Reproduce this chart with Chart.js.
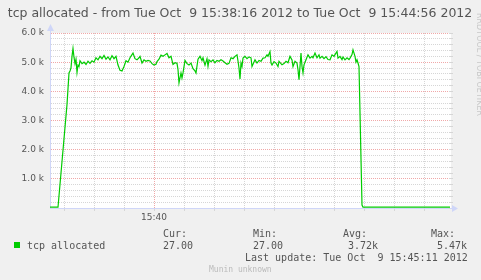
<!DOCTYPE html>
<html>
<head>
<meta charset="utf-8">
<script src="https://cdn.jsdelivr.net/npm/chart.js@4.4.0/dist/chart.umd.min.js"></script>
<style>
  html, body { margin: 0; padding: 0; background: #f0f0f0; }
  canvas { display: block; }
</style>
</head>
<body>
<canvas id="tcpChart" width="481" height="280"></canvas>
<script>
// seconds after 15:38:16
const seconds = [
    0, 8, 17, 19, 20, 21, 22, 23, 24, 25,
    26, 27, 28, 29, 30, 32, 34, 36, 38, 40,
    42, 44, 46, 48, 50, 52, 54, 56, 58, 60,
    62, 64, 66, 68, 70, 72, 74, 76, 78, 80,
    82, 83, 85, 87, 89, 90, 92, 94, 96, 98,
    100, 102, 104, 106, 107, 109, 111, 113, 115, 117,
    119, 121, 123, 125, 127, 128, 129, 131, 132, 133,
    135, 137, 139, 141, 143, 145, 146, 148, 150, 152,
    153, 155, 157, 158, 159, 161, 163, 165, 167, 169,
    171, 173, 175, 177, 179, 181, 183, 185, 187, 188,
    189, 190, 191, 192, 193, 195, 197, 199, 201, 202,
    205, 207, 209, 211, 213, 215, 217, 218, 220, 221,
    222, 224, 226, 228, 229, 232, 234, 236, 238, 240,
    242, 243, 245, 247, 248, 249, 250, 251, 252, 253,
    254, 256, 258, 260, 262, 263, 265, 267, 269, 270,
    272, 274, 276, 278, 280, 282, 284, 285, 287, 288,
    290, 292, 293, 295, 297, 299, 300, 302, 303, 305,
    306, 307, 308, 309, 312, 313, 400
];
const allocated = [
    27, 27, 3550, 4630, 4700, 4800, 5200, 5470, 5170, 4950,
    5100, 4650, 4900, 4850, 5050, 4950, 5000, 4920, 5030, 4960,
    5050, 5000, 5150, 5080, 5200, 5120, 5230, 5100, 5180, 5080,
    5220, 5120, 5200, 4900, 4720, 4700, 4850, 5050, 5000, 5150,
    5260, 5310, 5120, 5080, 5150, 5200, 4970, 5080, 5030, 5060,
    5040, 4950, 4900, 4930, 5020, 5100, 5240, 5200, 5250, 5300,
    5150, 5200, 4920, 4980, 4960, 4750, 4290, 4630, 4460, 4630,
    5060, 4950, 4900, 4970, 4780, 4700, 4630, 5100, 5200, 5050,
    5150, 4900, 5120, 4860, 5080, 5020, 5080, 4980, 5060, 5030,
    5080, 5040, 4980, 4930, 4960, 5150, 5120, 5200, 5250, 5040,
    4800, 4420, 4970, 4850, 5140, 5200, 5120, 5180, 5150, 4850,
    5080, 4970, 5060, 5030, 5140, 5150, 5250, 5200, 5360, 4970,
    4900, 5020, 4970, 4850, 5030, 4910, 4950, 5030, 4980, 5200,
    5080, 4850, 5030, 4970, 4740, 4400, 4850, 5310, 4850, 4630,
    4910, 5080, 5250, 5140, 5200, 5150, 5310, 5150, 5250, 5140,
    5200, 5120, 5190, 5090, 5080, 5250, 5200, 5260, 5370, 5140,
    5200, 5090, 5180, 5080, 5150, 5090, 5140, 5260, 5420, 5200,
    5000, 5080, 4970, 4850, 100, 27, 27
];

// x grid every 30 s, labelled only on the 5 minute mark
const xGridTicks = [14, 44, 74, 104, 134, 164, 194, 224, 254, 284, 314, 344, 374];
const xLabels = { 104: '15:40' };

const title = 'tcp allocated - from Tue Oct  9 15:38:16 2012 to Tue Oct  9 15:44:56 2012';
const legendName = 'tcp allocated';
const statHeads = ['Cur:', 'Min:', 'Avg:', 'Max:'];
const statValues = ['27.00', '27.00', '3.72k', '5.47k'];
const lastUpdate = 'Last update: Tue Oct  9 15:45:11 2012';

const green = '#00cc00';
const axisColor = '#cfd6f8';
const minorGrid = '#d6d6d6';
const majorGrid = '#f0a8a8';
const fontColor = '#555555';

const points = seconds.map((s, i) => ({ x: s, y: allocated[i] }));

const decor = {
    id: 'decor',
    beforeDraw(chart) {
        const { ctx, chartArea: a } = chart;
        ctx.save();
        ctx.fillStyle = '#f0f0f0';
        ctx.fillRect(0, 0, chart.width, chart.height);
        ctx.fillStyle = '#ffffff';
        ctx.fillRect(a.left, a.top, a.right - a.left + 1, a.bottom - a.top);
        ctx.restore();
    },
    afterDraw(chart) {
        const { ctx, chartArea: a } = chart;
        const yScale = chart.scales.y;
        ctx.save();

        // small marks on the right edge
        ctx.strokeStyle = minorGrid;
        ctx.lineWidth = 1;
        yScale.ticks.forEach(t => {
            const py = Math.floor(yScale.getPixelForValue(t.value)) + 0.5;
            ctx.beginPath();
            ctx.moveTo(a.right - 1, py);
            ctx.lineTo(a.right + 3, py);
            ctx.stroke();
        });

        // axis arrows
        const ax = Math.floor(a.left) + 0.5;
        const ay = Math.floor(a.bottom) + 0.5;
        ctx.strokeStyle = axisColor;
        ctx.beginPath();
        ctx.moveTo(ax, a.top);
        ctx.lineTo(ax, a.top - 5);
        ctx.moveTo(a.right, ay);
        ctx.lineTo(a.right + 4, ay);
        ctx.stroke();
        ctx.fillStyle = axisColor;
        ctx.beginPath();
        ctx.moveTo(ax, a.top - 9);
        ctx.lineTo(ax - 3.5, a.top - 2);
        ctx.lineTo(ax + 3.5, a.top - 2);
        ctx.closePath();
        ctx.fill();
        ctx.beginPath();
        ctx.moveTo(a.right + 8, ay);
        ctx.lineTo(a.right + 2, ay - 3.5);
        ctx.lineTo(a.right + 2, ay + 3.5);
        ctx.closePath();
        ctx.fill();

        // title
        ctx.fillStyle = fontColor;
        ctx.font = '12.5px "DejaVu Sans"';
        ctx.textAlign = 'center';
        ctx.textBaseline = 'alphabetic';
        ctx.fillText(title, 240, 17);

        // legend
        ctx.textAlign = 'left';
        ctx.font = '10px "DejaVu Sans Mono"';
        ctx.fillStyle = green;
        ctx.fillRect(14, 242, 6, 6);
        ctx.fillStyle = fontColor;
        ctx.fillText(legendName, 27, 249);
        const headX = [163, 253, 343, 431];
        const valX = [163, 253, 348, 437];
        statHeads.forEach((h, i) => ctx.fillText(h, headX[i], 237));
        statValues.forEach((v, i) => ctx.fillText(v, valX[i], 249));
        ctx.fillText(lastUpdate, 245, 261);

        ctx.fillStyle = '#bbbbbb';
        ctx.font = '8px "DejaVu Sans Mono"';
        ctx.fillText('Munin unknown', 209, 272);

        // rrdtool watermark
        ctx.fillStyle = '#c8c8c8';
        ctx.font = '8px "DejaVu Sans"';
        ctx.translate(477, 13);
        ctx.rotate(Math.PI / 2);
        ctx.textBaseline = 'alphabetic';
        ctx.fillText('RRDTOOL / TOBI OETIKER', 0, 0);
        ctx.restore();
    }
};

new Chart(document.getElementById('tcpChart'), {
    type: 'line',
    data: {
        datasets: [{
            label: legendName,
            data: points,
            borderColor: green,
            borderWidth: 1.2,
            pointRadius: 0,
            tension: 0,
            fill: false
        }]
    },
    options: {
        responsive: false,
        animation: false,
        events: [],
        layout: { padding: { top: 33, right: 31, bottom: 52, left: 0 } },
        plugins: {
            legend: { display: false },
            title: { display: false },
            tooltip: { enabled: false }
        },
        scales: {
            x: {
                type: 'linear',
                min: 0,
                max: 400,
                afterBuildTicks: scale => {
                    scale.ticks = xGridTicks.map(v => ({ value: v }));
                },
                afterFit: scale => { scale.height = 20; },
                ticks: {
                    autoSkip: false,
                    maxRotation: 0,
                    padding: 1,
                    color: fontColor,
                    font: { family: 'DejaVu Sans', size: 9 },
                    callback: v => xLabels[v] || ''
                },
                grid: {
                    color: ctx => ctx.tick && ctx.tick.value === 104 ? majorGrid : minorGrid,
                    drawTicks: true,
                    tickLength: 3,
                    tickColor: minorGrid
                },
                border: { color: axisColor, dash: [1, 1] }
            },
            y: {
                min: 0,
                max: 6000,
                afterFit: scale => { scale.width = 50; },
                ticks: {
                    stepSize: 200,
                    autoSkip: false,
                    padding: 6,
                    color: fontColor,
                    font: { family: 'DejaVu Sans', size: 9 },
                    callback: v => (v > 0 && v % 1000 === 0) ? (v / 1000).toFixed(1) + ' k' : ''
                },
                grid: {
                    color: ctx => ctx.tick && ctx.tick.value % 1000 === 0 ? majorGrid : minorGrid,
                    drawTicks: false
                },
                border: { color: axisColor, dash: [1, 1] }
            }
        }
    },
    plugins: [decor]
});
</script>
</body>
</html>
